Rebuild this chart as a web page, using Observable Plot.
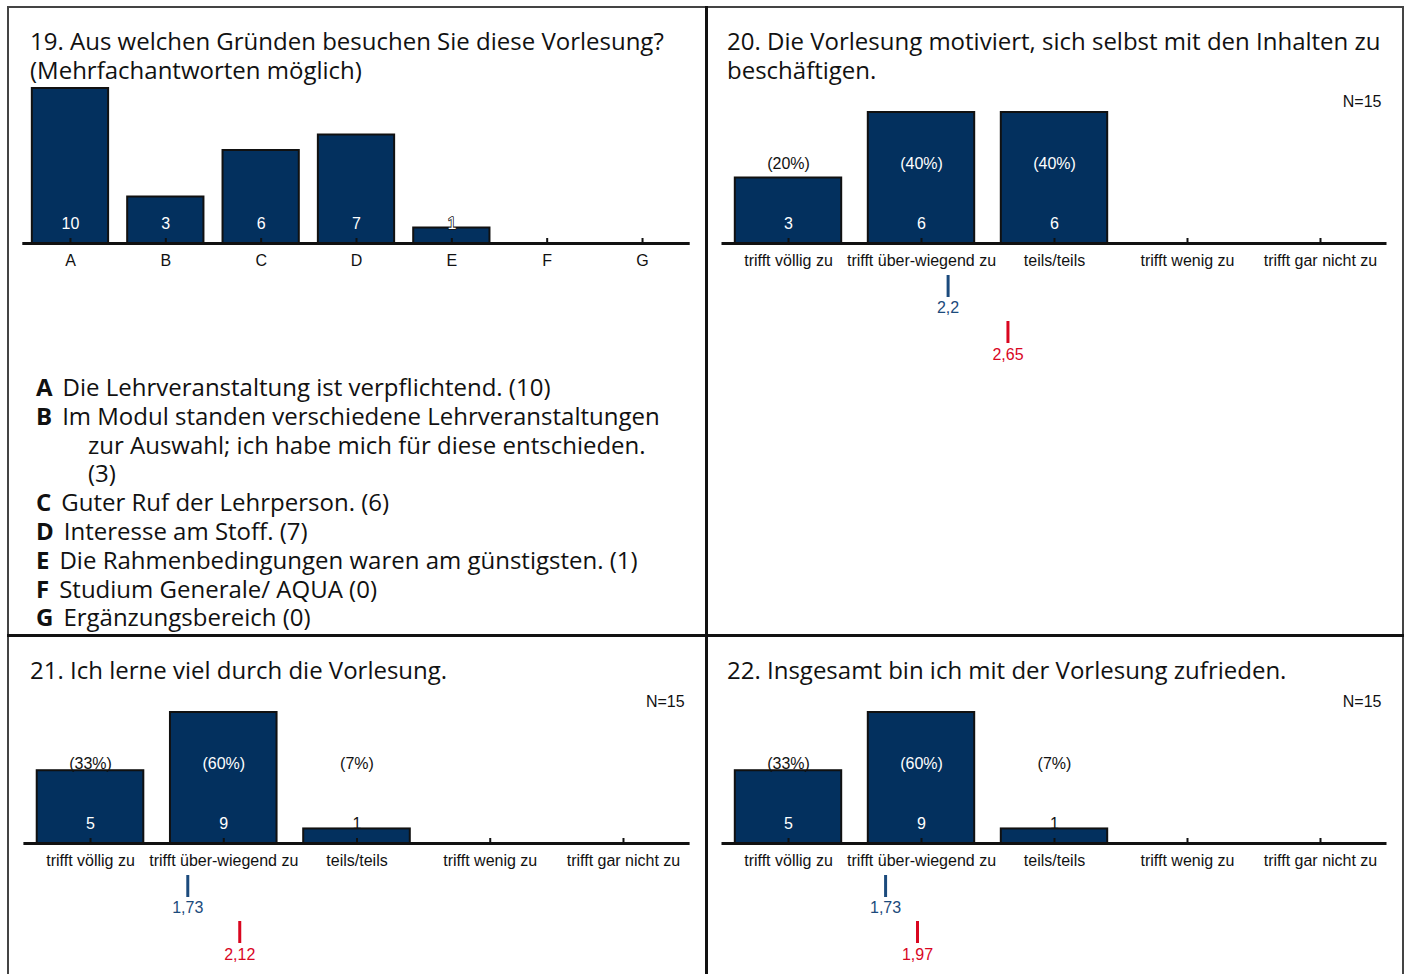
<!DOCTYPE html>
<html>
<head>
<meta charset="utf-8">
<script src="https://cdn.jsdelivr.net/npm/d3@7"></script>
<script src="https://cdn.jsdelivr.net/npm/@observablehq/plot@0.6"></script>
<style>
  html, body { margin: 0; padding: 0; background: #fff; }
  #page { position: relative; width: 1407px; height: 974px; overflow: hidden; background: #fff; }
  .title { position: absolute; font-family: "Open Sans", sans-serif; font-size: 24px; line-height: 29px; color: #111; white-space: pre; }
  .legend { position: absolute; left: 36px; top: 373px; font-family: "Open Sans", sans-serif; font-size: 24px; line-height: 28.8px; color: #111; }
  .legend div { padding-left: 52px; text-indent: -52px; white-space: pre-line; }
  .legend b { margin-right: 10px; }
  .line { position: absolute; background: #222; }
  .chart { position: absolute; }
  .chart svg { overflow: visible; }
</style>
</head>
<body>
<div id="page"></div>
<script>
// ---------- data ----------
const titles = [
  "19. Aus welchen Gründen besuchen Sie diese Vorlesung?\n(Mehrfachantworten möglich)",
  "20. Die Vorlesung motiviert, sich selbst mit den Inhalten zu\nbeschäftigen.",
  "21. Ich lerne viel durch die Vorlesung.",
  "22. Insgesamt bin ich mit der Vorlesung zufrieden."
];
const q19Categories = ["A", "B", "C", "D", "E", "F", "G"];
const q19Counts = [10, 3, 6, 7, 1, 0, 0];
const q19LegendTexts = [
  "Die Lehrveranstaltung ist verpflichtend. (10)",
  "Im Modul standen verschiedene Lehrveranstaltungen\nzur Auswahl; ich habe mich für diese entschieden.\n(3)",
  "Guter Ruf der Lehrperson. (6)",
  "Interesse am Stoff. (7)",
  "Die Rahmenbedingungen waren am günstigsten. (1)",
  "Studium Generale/ AQUA (0)",
  "Ergänzungsbereich (0)"
];
const scaleLabels = ["trifft völlig zu", "trifft über-wiegend zu", "teils/teils", "trifft wenig zu", "trifft gar nicht zu"];
const q20Counts = [3, 6, 6, 0, 0];
const q20Percents = ["(20%)", "(40%)", "(40%)", "", ""];
const q20Means = [2.2, 2.65];
const q20MeanLabels = ["2,2", "2,65"];
const q21Counts = [5, 9, 1, 0, 0];
const q21Percents = ["(33%)", "(60%)", "(7%)", "", ""];
const q21Means = [1.73, 2.12];
const q21MeanLabels = ["1,73", "2,12"];
const q22Counts = [5, 9, 1, 0, 0];
const q22Percents = ["(33%)", "(60%)", "(7%)", "", ""];
const q22Means = [1.73, 1.97];
const q22MeanLabels = ["1,73", "1,97"];
const nLabel = "N=15";

// ---------- styles ----------
const NAVY = "#03305e";
const EDGE = "#111";
const MEAN_COLORS = ["#1b4a7c", "#d9061f"];
const MEAN_OFFSETS = [{top: 32, bottom: 54, label: 64}, {top: 78, bottom: 100, label: 111}];
const FONT = "'Liberation Sans', Arial, sans-serif";

const page = document.getElementById("page");

function addLine(left, top, w, h, color) {
  const d = document.createElement("div");
  d.className = "line";
  Object.assign(d.style, {left: left + "px", top: top + "px", width: w + "px", height: h + "px"});
  if (color) d.style.background = color;
  page.appendChild(d);
}
// frame
addLine(7, 6, 1397, 2, "#444");
addLine(7, 6, 2, 970, "#444");
addLine(1402, 6, 2, 970, "#444");
addLine(705, 6, 3, 970, "#111");
addLine(7, 634, 1397, 3, "#111");

function addTitle(text, left, top) {
  const d = document.createElement("div");
  d.className = "title";
  d.textContent = text;
  d.style.left = left + "px";
  d.style.top = top + "px";
  page.appendChild(d);
}
addTitle(titles[0], 30, 26);
addTitle(titles[1], 727, 26);
addTitle(titles[2], 30, 655);
addTitle(titles[3], 727, 655);

// legend for question 19
const legend = document.createElement("div");
legend.className = "legend";
q19Categories.forEach((c, k) => {
  const row = document.createElement("div");
  const b = document.createElement("b");
  b.textContent = c;
  row.appendChild(b);
  row.appendChild(document.createTextNode(q19LegendTexts[k]));
  legend.appendChild(row);
});
page.appendChild(legend);

function panel({counts, labels, percents, means, meanLabels, showN, outlineSmall, left, top, width, height, marginLeft, marginRight, marginTop, marginBottom, barMaxPx}) {
  const rows = counts.map((v, k) => ({i: k + 1, value: v, pct: percents ? percents[k] : ""}));
  const max = d3.max(counts);
  const short = d => d.value / max * barMaxPx < 24;
  const smallStyle = outlineSmall
    ? {fill: "white", stroke: "#111", strokeWidth: 1.5}
    : {fill: "#111"};
  const marks = [
    Plot.rect(rows, {x1: d => d.i - 0.4, x2: d => d.i + 0.4, y1: 0, y2: "value", fill: NAVY, stroke: EDGE, strokeWidth: 2}),
    Plot.ruleY([0], {stroke: EDGE, strokeWidth: 3}),
    Plot.ruleX(rows, {x: "i", y1: 0, y2: 0, insetBottom: 5, stroke: EDGE, strokeWidth: 2}),
    Plot.axisX({ticks: rows.map(d => d.i), tickFormat: i => labels[i - 1], tickSize: 0, tickPadding: 11, fontSize: 16, fill: "#111", label: null}),
    Plot.text(rows.filter(d => d.value > 0 && !short(d)), {x: "i", y: 0, dy: -20, text: d => String(d.value), fill: "white", fontSize: 16}),
    Plot.text(rows.filter(d => d.value > 0 && short(d)), {x: "i", y: 0, dy: -20, text: d => String(d.value), fontSize: 16, ...smallStyle})
  ];
  if (percents) {
    marks.push(Plot.text(rows.filter(d => d.pct), {
      x: "i", y: 0, dy: -80, text: "pct", fontSize: 16,
      fill: d => (d.value / max * barMaxPx > 88 ? "white" : "#111")
    }));
  }
  if (means) {
    means.forEach((m, k) => {
      const o = MEAN_OFFSETS[k];
      marks.push(Plot.ruleX([m], {x: d => d, y1: 0, y2: 0, insetTop: o.top, insetBottom: -o.bottom, stroke: MEAN_COLORS[k], strokeWidth: 3}));
      marks.push(Plot.text([m], {x: d => d, y: 0, dy: o.label, text: () => meanLabels[k], fill: MEAN_COLORS[k], fontSize: 16}));
    });
  }
  if (showN) {
    marks.push(Plot.text([nLabel], {frameAnchor: "top-right", text: d => d, dx: -5.5, dy: -17, fontSize: 16, fill: "#111"}));
  }
  const chart = Plot.plot({
    width, height, marginLeft, marginRight, marginTop, marginBottom,
    x: {domain: [0.5, counts.length + 0.5], label: null},
    y: {domain: [0, max], axis: null, label: null},
    style: {fontFamily: FONT, fontSize: "16px", color: "#111", background: "transparent", overflow: "visible"},
    marks
  });
  const wrap = document.createElement("div");
  wrap.className = "chart";
  wrap.style.left = left + "px";
  wrap.style.top = top + "px";
  wrap.appendChild(chart);
  page.appendChild(wrap);
}

panel({counts: q19Counts, labels: q19Categories, outlineSmall: true, left: 0, top: 80, width: 710, height: 200,
  marginLeft: 22.3, marginRight: 20.3, marginTop: 8, marginBottom: 37, barMaxPx: 155});
panel({counts: q20Counts, labels: scaleLabels, percents: q20Percents, means: q20Means, meanLabels: q20MeanLabels, showN: true,
  left: 706, top: 88, width: 701, height: 290, marginLeft: 15.5, marginRight: 20.5, marginTop: 24, marginBottom: 135, barMaxPx: 131});
panel({counts: q21Counts, labels: scaleLabels, percents: q21Percents, means: q21Means, meanLabels: q21MeanLabels, showN: true,
  left: 0, top: 688, width: 710, height: 286, marginLeft: 23.4, marginRight: 20.4, marginTop: 24, marginBottom: 131, barMaxPx: 131});
panel({counts: q22Counts, labels: scaleLabels, percents: q22Percents, means: q22Means, meanLabels: q22MeanLabels, showN: true,
  left: 706, top: 688, width: 701, height: 286, marginLeft: 15.5, marginRight: 20.5, marginTop: 24, marginBottom: 131, barMaxPx: 131});
</script>
</body>
</html>
